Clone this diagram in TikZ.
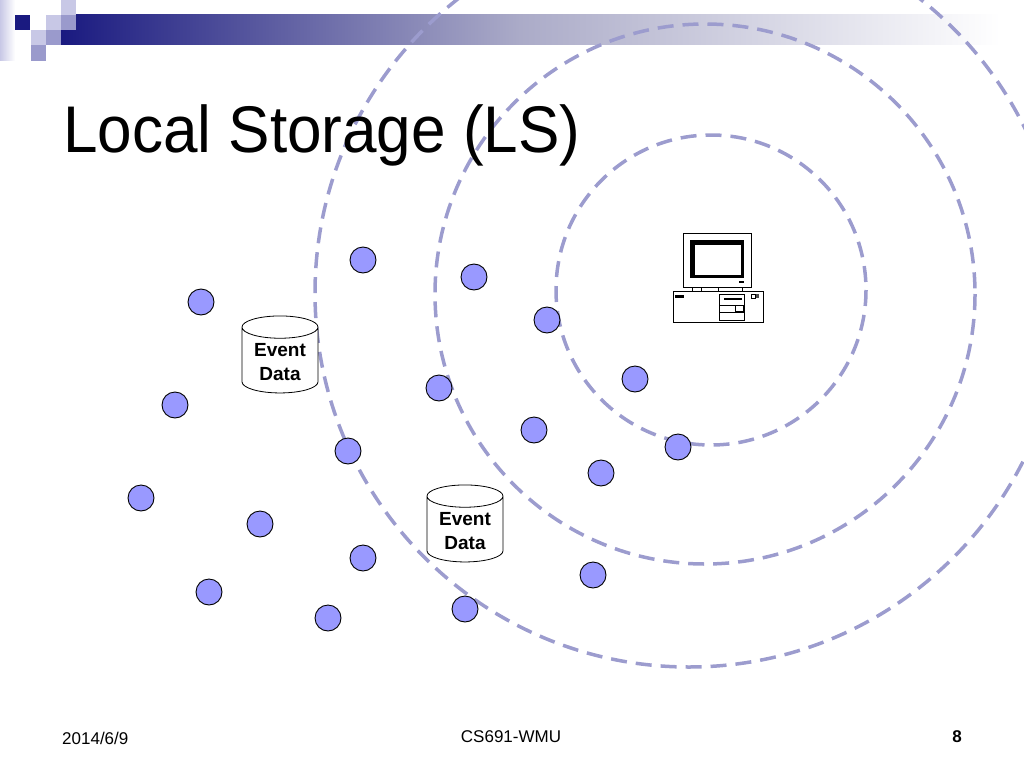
\documentclass[tikz,border=0pt]{standalone}
\usepackage{fontspec}
\setmainfont{Liberation Sans}
\usetikzlibrary{positioning,shapes.geometric}
\definecolor{navy}{HTML}{1A1A80}
\definecolor{lav}{HTML}{C8C8E6}
\definecolor{midlav}{HTML}{9A9ACC}
\definecolor{barend}{HTML}{ABABC8}
\definecolor{nodefill}{HTML}{9999FF}
\definecolor{ringcol}{HTML}{9C9CCE}
\tikzset{
  sensor/.style={circle,draw=black,fill=nodefill,line width=0.9pt,minimum size=26pt,inner sep=0pt},
  store/.style={cylinder,shape border rotate=90,draw=black,fill=white,line width=0.8pt,
    minimum width=76pt,minimum height=77pt,aspect=0.4,align=center,
    font=\bfseries\fontsize{19}{24}\selectfont,inner sep=2pt},
  ring/.style={draw=ringcol,line width=3.5pt,dash pattern=on 16pt off 9pt},
  foot/.style={font=\fontsize{17}{20}\selectfont}
}
\begin{document}
\begin{tikzpicture}[x=1pt,y=-1pt]
	\useasboundingbox (0,0) rectangle (1024,768);
	\begin{scope}
		\clip (0,0) rectangle (1024,768);
		% corner squares and bar
		\shade[left color=lav,right color=white] (0,0) rectangle (15,60);
		\shade[left color=navy,right color=barend] (61,15) rectangle (520,45);
		\shade[left color=barend,right color=white] (520,15) rectangle (1000,45);
		\fill[navy] (15,15) rectangle (30,30);
		\fill[lav] (61,0) rectangle (76,15);
		\fill[lav] (46,15) rectangle (61,30);
		\fill[midlav] (61,15) rectangle (76,30);
		\fill[lav] (31,30) rectangle (46,45);
		\fill[midlav] (46,30) rectangle (61,45);
		\fill[midlav] (31,45) rectangle (46,61);
		% range rings
		\draw[ring] (711,290) circle (155);
		\draw[ring] (705,294) circle (270);
		\draw[ring] (689,293) circle (374);
	\end{scope}

	\node[anchor=base west,font=\fontsize{66}{76}\selectfont,inner sep=0pt] (title) at (63,152) {\scalebox{0.94}[1]{Local Storage (LS)}};

	% sink computer
	\coordinate (sink) at (718,278);
	\draw[line width=0.8pt,fill=white] (683,233) rectangle (751,287);
	\fill[black] (690,240) rectangle (744,278);
	\fill[white] (695,245) rectangle (741,275);
	\fill[black] (739,281) rectangle (744,283);
	\draw[line width=0.6pt] (692,287) rectangle (742,291);
	\draw[line width=0.6pt] (701,287) -- (701,291) (718,287) -- (718,291);
	\draw[line width=0.8pt,fill=white] (673,291) rectangle (763,322);
	\fill[black] (675,295) rectangle (684,298);
	\draw[line width=0.5pt] (719,294) rectangle (744,320);
	\fill[black] (724,298) rectangle (742,300);
	\draw[line width=0.5pt] (719,305) -- (744,305) (719,312) -- (744,312);
	\draw[line width=0.5pt] (735,305) rectangle (743,311);
	\draw[line width=0.5pt] (751,294) rectangle (755,298);
	\fill[black!70] (756,294) rectangle (759,298);

	% sensor nodes
	\foreach \x/\y [count=\i] in {363/260,474/277,201/302,547/320,635/379,439/388,175/405,534/430,678/447,
		348/451,601/473,141/498,260/524,363/558,593/575,209/592,328/618,465/609}
		\node[sensor] (n\i) at (\x,\y) {};

	% storage
	\node[store] (ls1) at (280,362) {Event\\Data};
	\node[store] (ls2) at (465,531) {Event\\Data};

	% footer
	\node[foot,anchor=base west,inner sep=0pt] (date) at (62,744) {2014/6/9};
	\node[foot,anchor=base,inner sep=0pt] (course) at (511,742) {CS691-WMU};
	\node[foot,anchor=base east,inner sep=0pt,font=\bfseries\fontsize{17}{20}\selectfont] (page) at (962,742) {8};
\end{tikzpicture}
\end{document}
